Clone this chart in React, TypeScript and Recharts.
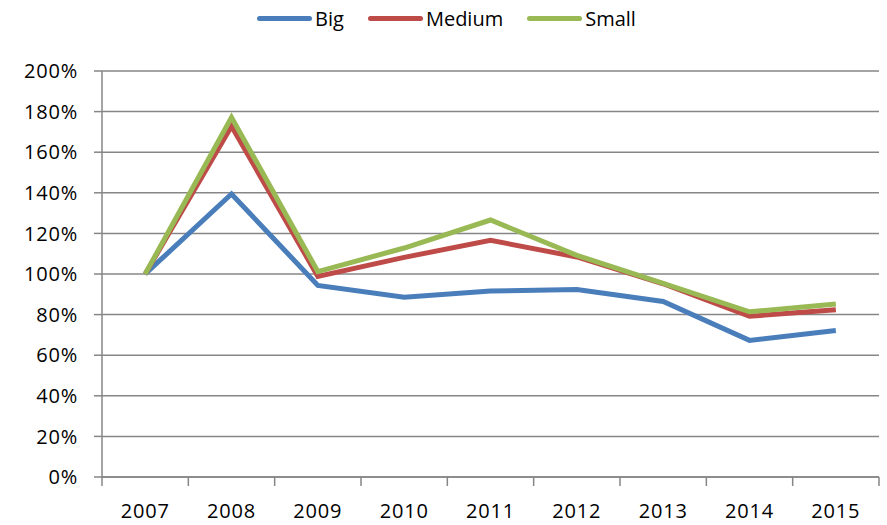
import { LineChart, Line, XAxis, YAxis, CartesianGrid, Legend } from "recharts";

const years = ["2007", "2008", "2009", "2010", "2011", "2012", "2013", "2014", "2015"];
const big = [100, 139.4, 94.4, 88.5, 91.6, 92.4, 86.5, 67.3, 72.2];
const medium = [100, 172.8, 98.8, 108.2, 116.6, 108.4, 95.2, 79.2, 82.4];
const small = [100, 177.2, 101.2, 112.8, 126.6, 109.2, 95.4, 81.4, 85.2];
const yTicks = [0, 20, 40, 60, 80, 100, 120, 140, 160, 180, 200];

const seriesInfo = [
  { key: "big", name: "Big", color: "#4A7EBB" },
  { key: "medium", name: "Medium", color: "#BE4B48" },
  { key: "small", name: "Small", color: "#98B954" },
];

const W = 887;
const H = 525;
const LEGEND_H = 30;
const M = { top: 71 - LEGEND_H, right: 8, bottom: 0, left: 0 };
const Y_W = 102;
const X_H = 48;
const GRID = "#868686";
const FONT = "'Open Sans', sans-serif";

const data = years.map((y, i) => ({
  year: y,
  big: big[i],
  medium: medium[i],
  small: small[i],
}));

const bandW = (W - M.left - M.right - Y_W) / years.length;

function XTick(props: any) {
  const { x, y, payload, index } = props;
  return (
    <g>
      <line x1={x - bandW / 2} x2={x - bandW / 2} y1={y} y2={y + 9} stroke={GRID} strokeWidth={1.5} />
      {index === years.length - 1 && (
        <line x1={x + bandW / 2} x2={x + bandW / 2} y1={y} y2={y + 9} stroke={GRID} strokeWidth={1.5} />
      )}
      <text x={x} y={y + 41} textAnchor="middle" fontSize={20} fontFamily={FONT} fill="#000" letterSpacing={0.8}>
        {payload.value}
      </text>
    </g>
  );
}

function LegendBox() {
  return (
    <div
      style={{
        display: "flex",
        justifyContent: "center",
        alignItems: "center",
        paddingLeft: 30,
        height: LEGEND_H,
        fontFamily: FONT,
        fontSize: 20,
        color: "#000",
      }}
    >
      {seriesInfo.map((s) => (
        <div key={s.key} style={{ display: "flex", alignItems: "center", marginRight: 24 }}>
          <div style={{ width: 55, height: 5, borderRadius: 3, background: s.color, marginRight: 3 }} />
          <span>{s.name}</span>
        </div>
      ))}
    </div>
  );
}

export default function App() {
  return (
    <div style={{ position: "absolute", left: 0, top: 0, width: W, height: H, background: "#fff" }}>
      <LineChart width={W} height={H} data={data} margin={M}>
        <CartesianGrid horizontal vertical={false} stroke={GRID} strokeWidth={1.5} />
        <XAxis
          dataKey="year"
          scale="band"
          height={X_H}
          axisLine={{ stroke: GRID, strokeWidth: 1.5 }}
          tickLine={false}
          tickSize={0}
          tickMargin={0}
          tick={<XTick />}
          interval={0}
        />
        <YAxis
          width={Y_W}
          domain={[0, 200]}
          ticks={yTicks}
          interval={0}
          tickFormatter={(v) => `${v}%`}
          axisLine={{ stroke: GRID, strokeWidth: 1.5 }}
          tickLine={{ stroke: GRID, strokeWidth: 1.5 }}
          tickSize={8}
          tickMargin={16}
          tick={{ fill: "#000", fontSize: 20, fontFamily: FONT, letterSpacing: 0.8 }}
        />
        <Legend
          verticalAlign="top"
          content={<LegendBox />}
          wrapperStyle={{ top: 3, left: 0, width: W, height: LEGEND_H }}
        />
        {seriesInfo.map((s) => (
          <Line
            key={s.key}
            type="linear"
            dataKey={s.key}
            name={s.name}
            stroke={s.color}
            strokeWidth={5}
            dot={false}
            activeDot={false}
            isAnimationActive={false}
          />
        ))}
      </LineChart>
    </div>
  );
}
